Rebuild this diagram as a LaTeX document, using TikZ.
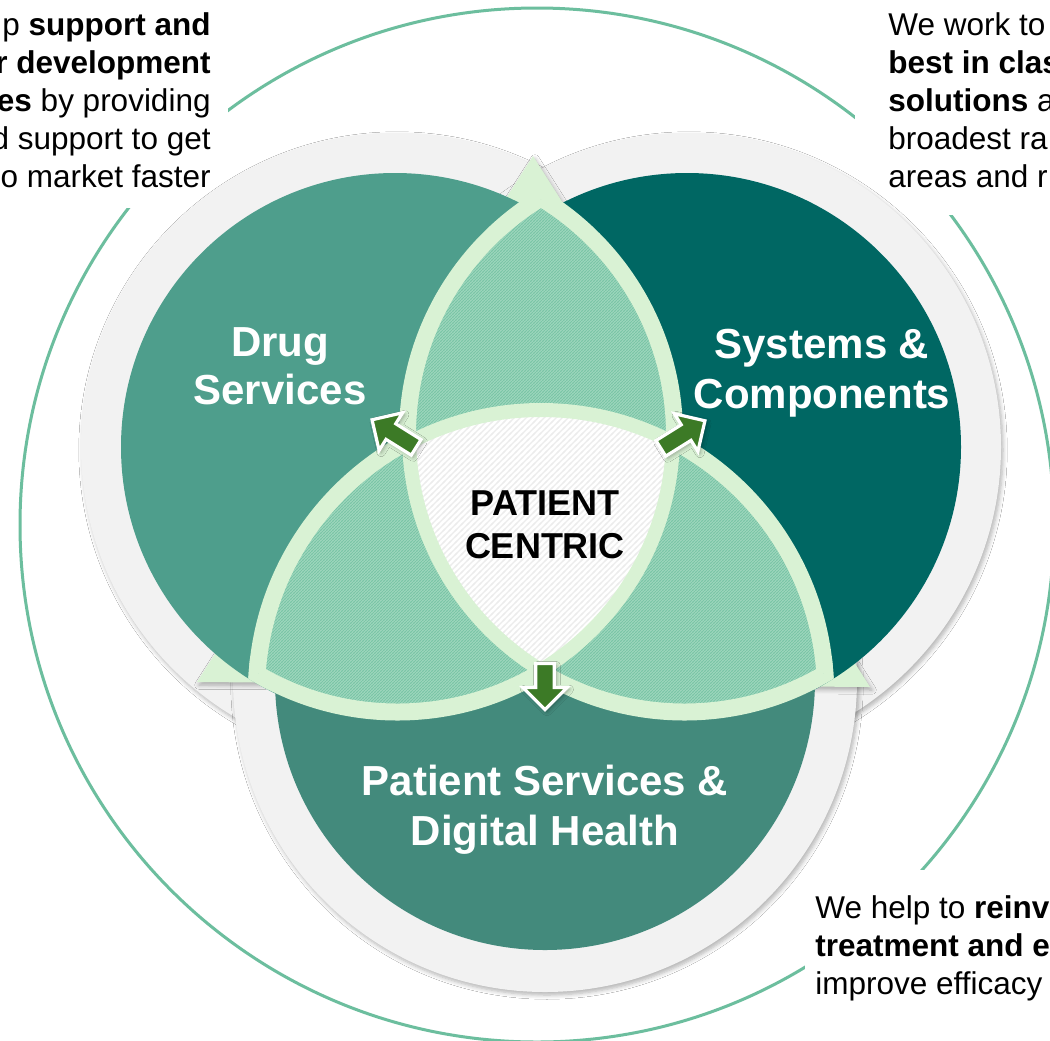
\documentclass[tikz,border=0pt]{standalone}
\usepackage{fontspec}
\setmainfont{Liberation Sans}
\usetikzlibrary{shapes.arrows, shadows.blur, patterns.meta}
\definecolor{drugteal}{RGB}{78,158,140}
\definecolor{systeal}{RGB}{0,103,99}
\definecolor{patteal}{RGB}{67,138,124}
\definecolor{lensgreen}{RGB}{217,242,212}
\definecolor{ringgray}{RGB}{242,242,242}
\definecolor{orbitgreen}{RGB}{108,190,158}
\definecolor{hatchbase}{RGB}{210,239,222}
\definecolor{hatchline}{RGB}{122,197,166}
\definecolor{hubline}{RGB}{236,236,236}
\definecolor{arrowgreen}{RGB}{60,122,38}

\tikzdeclarepattern{
  name=finelines,
  type=uncolored,
  bottom left={(-1pt,-1pt)},
  top right={(2.5pt,2.5pt)},
  tile size={(1.5pt,1.5pt)},
  code={\draw[line width=0.7pt] (-0.5pt,-0.5pt) -- (2pt,2pt);}
}
\tikzdeclarepattern{
  name=hublines,
  type=uncolored,
  bottom left={(-1pt,-1pt)},
  top right={(4pt,4pt)},
  tile size={(3pt,3pt)},
  code={\draw[line width=0.6pt] (-0.5pt,-0.5pt) -- (3.5pt,3.5pt);}
}

\begin{document}
\begin{tikzpicture}[x=0.5pt, y=-0.5pt,
  halo/.style={fill=ringgray, blur shadow={shadow xshift=1pt, shadow yshift=-1.5pt, shadow opacity=30, shadow blur steps=6}},
  lensfill/.style={fill=hatchbase, postaction={pattern=finelines, pattern color=hatchline}},
  hubfill/.style={fill=white, postaction={pattern=hublines, pattern color=hubline}},
  disclabel/.style={text=white, font=\fontsize{21pt}{24pt}\selectfont\bfseries, align=center},
  hubtext/.style={text=black, font=\fontsize{18pt}{21.5pt}\selectfont\bfseries, align=center},
  sidenote/.style={fill=white, text=black, font=\fontsize{15.75pt}{19pt}\selectfont},
  flowarrow/.style={single arrow, fill=arrowgreen, draw=white, line width=1.6pt,
    minimum height=26pt, inner xsep=0pt, inner ysep=3.8pt,
    single arrow head extend=6.5pt, single arrow head indent=0pt,
    blur shadow={shadow xshift=1pt, shadow yshift=-1pt, shadow opacity=35, shadow blur steps=4}}
]
  \useasboundingbox (0,0) rectangle (1050,1040);
  \clip (0,0) rectangle (1050,1040);
  \fill[white] (0,0) rectangle (1050,1040);

  % outer orbit
  \draw[orbitgreen, line width=1.5pt] (537,525) circle[radius=517];

  % side notes
  \node[sidenote, anchor=north east, inner xsep=8.5pt, inner ysep=10pt, align=right] (devnote) at (228,-7.6)
    {p \textbf{support and}\\ \textbf{r development}\\ \textbf{es} by providing\\ d support to get\\ o market faster};
  \node[sidenote, anchor=north west, inner xsep=16.5pt, inner ysep=13.5pt, align=left] (solnote) at (855,-14.6)
    {We work to\\ \textbf{best in clas}\\ \textbf{solutions} a\\ broadest ra\\ areas and r};
  \node[sidenote, anchor=north west, inner xsep=5pt, inner ysep=12.5pt, align=left] (carenote) at (805,870)
    {We help to \textbf{reinv}\\ \textbf{treatment and e}\\ improve efficacy};

  % grey halos and the triangle behind
  \fill[halo] (395,447) circle[radius=314];
  \fill[halo] (687,447) circle[radius=314];
  \fill[halo] (545,680) circle[radius=312];
  \fill[lensgreen, blur shadow={shadow xshift=1pt, shadow yshift=-1.5pt, shadow opacity=30, shadow blur steps=5}]
    (533,156) -- (870,687) -- (197,682) -- cycle;

  % the three discs
  \fill[drugteal] (395,447) circle[radius=274];
  \fill[systeal] (687,447) circle[radius=274];
  \fill[patteal] (545,680) circle[radius=270];

  % overlaps
  \coordinate (dl) at (397.5,435);
  \coordinate (sl) at (684.5,435);
  \coordinate (pl) at (541,693);
  \foreach \c/\r/\a/\ra/\b/\rb in {dl/275.5/sl/275.5/pl/283, sl/275.5/dl/275.5/pl/283, pl/283/dl/275.5/sl/275.5}{
    \begin{scope}
      \clip (\a) circle[radius=\ra+10] (\b) circle[radius=\rb+10];
      \draw[lensgreen, line width=10pt] (\c) circle[radius=\r];
    \end{scope}
  }
  \begin{scope}
    \clip (dl) circle[radius=275.5];
    \fill[lensfill] (sl) circle[radius=275.5];
    \fill[lensfill] (pl) circle[radius=283];
  \end{scope}
  \begin{scope}
    \clip (sl) circle[radius=275.5];
    \fill[lensfill] (pl) circle[radius=283];
  \end{scope}
  \begin{scope}
    \clip (dl) circle[radius=275.5];
    \clip (sl) circle[radius=275.5];
    \fill[hubfill] (pl) circle[radius=283];
  \end{scope}
  \foreach \c/\r/\a/\ra/\b/\rb in {dl/275.5/sl/275.5/pl/283, sl/275.5/dl/275.5/pl/283, pl/283/dl/275.5/sl/275.5}{
    \begin{scope}
      \clip (\a) circle[radius=\ra] (\b) circle[radius=\rb];
      \draw[lensgreen, line width=7pt] (\c) circle[radius=\r];
    \end{scope}
  }

  % labels
  \node[disclabel] (drug) at (280,366) {Drug\\Services};
  \node[disclabel, font=\fontsize{21pt}{25pt}\selectfont\bfseries] (systems) at (822,373) {Systems \&\\Components};
  \node[disclabel, font=\fontsize{21pt}{25pt}\selectfont\bfseries] (patient) at (545,810) {Patient Services \&\\Digital Health};
  \node[hubtext] (hub) at (545,525) {PATIENT\\CENTRIC};

  % arrows out of the hub
  \node[flowarrow, rotate=148] (todrug) at (398,436) {};
  \node[flowarrow, rotate=32] (tosystems) at (679,437) {};
  \node[flowarrow, rotate=-90, minimum height=23pt] (topatient) at (545,682) {};
\end{tikzpicture}
\end{document}
